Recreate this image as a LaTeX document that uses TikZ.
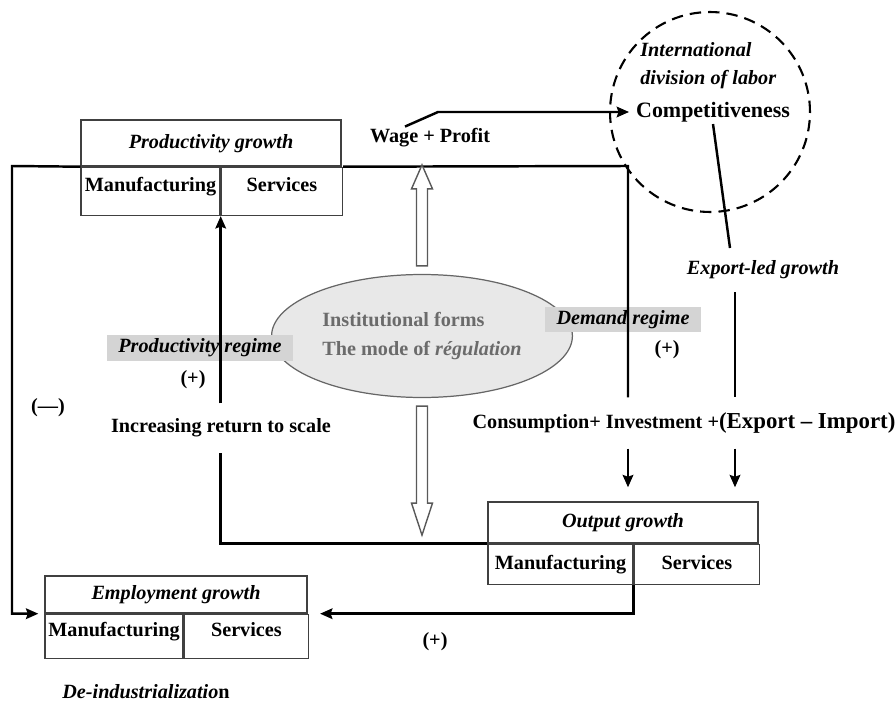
\documentclass[tikz,border=0pt]{standalone}
\usepackage{fontspec}
\setmainfont{Liberation Serif}
\usetikzlibrary{shapes.geometric, arrows.meta, positioning, calc}
\tikzstyle{arrow} = [line width=1.4pt,->,>={Stealth[length=7pt,width=6pt,inset=1pt]}]
\tikzstyle{link} = [line width=1.4pt]
\tikzstyle{hollow} = [draw=black!65, fill=white, line width=0.8pt]

\begin{document}
\begin{tikzpicture}[x=0.02cm, y=-0.02cm,
  execute at begin picture={\fontsize{11.5}{13}\selectfont\bfseries},
  cell/.style = {draw=black!75, line width=0.8pt, inner sep=0pt, text height=1.6ex, text depth=0.45ex},
  raised/.style = {cell, text depth=1.5ex},
  head/.style = {cell, font=\itshape},
  regime/.style = {fill=black!17, inner sep=0pt, font=\itshape},
  gap/.style = {inner xsep=2pt, inner ysep=0.3cm}]
\useasboundingbox (0,0) rectangle (896,703);

% productivity growth
\node[head, minimum width=5.2cm, minimum height=0.92cm] (pg) at (211,143) {Productivity growth};
\node[raised, minimum width=2.78cm, minimum height=0.96cm, below right=0pt and 0pt of pg.south west] (pgm) {Manufacturing};
\node[raised, minimum width=2.42cm, minimum height=0.96cm, right=0pt of pgm] (pgs) {Services};

% output growth
\node[head, minimum width=5.4cm, minimum height=0.82cm] (og) at (623,522.5) {Output growth};
\node[cell, minimum width=2.9cm, minimum height=0.8cm, below right=0pt and 0pt of og.south west] (ogm) {Manufacturing};
\node[cell, minimum width=2.5cm, minimum height=0.8cm, right=0pt of ogm] (ogs) {Services};

% employment growth
\node[head, minimum width=5.24cm, minimum height=0.74cm] (eg) at (176,594.5) {Employment growth};
\node[raised, minimum width=2.76cm, minimum height=0.88cm, below right=0pt and 0pt of eg.south west] (egm) {Manufacturing};
\node[raised, minimum width=2.48cm, minimum height=0.88cm, right=0pt of egm] (egs) {Services};

% international division of labor
\node[circle, draw, dash pattern=on 6.5pt off 4pt, line width=1.2pt, minimum size=4cm] (idl) at (710,112) {};
\node[anchor=west, inner sep=0pt, font=\itshape] (intl) at (640,50) {International};
\node[anchor=west, inner sep=0pt, font=\itshape] (dol) at (640,80) {division of labor};
\node[font=\fontsize{12.5}{14}\selectfont] (comp) at (713,112) {Competitiveness};

% institutional forms
\node[ellipse, draw=black!60, fill=black!9, line width=0.7pt, minimum width=4.88cm, minimum height=2.46cm,
      align=left, text=black!58] (inst) at (422,336) {Institutional forms\\[0.13cm] The mode of \textit{régulation}};

% labels
\node (wp) at (430,138) {Wage + Profit};
\node[gap, inner ysep=0.25cm, font=\itshape] (elg) at (763,270) {Export-led growth};
\node[regime, minimum width=3.72cm, minimum height=0.52cm] (pr) at (200,348) {Productivity regime};
\node[regime, minimum width=3.12cm, minimum height=0.5cm] (dr) at (623,319.5) {Demand regime};
\node (prp) at (193,380) {(+)};
\node (drp) at (667,350) {(+)};
\node (neg) at (48,408) {(—)};
\node[gap] (irs) at (221,428) {Increasing return to scale};
\node[gap] (cim) at (684,423) {Consumption+ Investment +{\fontsize{13}{15}\selectfont(Export – Import)}};
\node (opl) at (435,642) {(+)};
\node (deind) at (146,692) {\textit{De-industrializatio}n};

\coordinate (lft) at (12,166);
\coordinate (dx) at (628,166);
\coordinate (ex) at (735,0);
\coordinate (bend) at (438,112);

% connectors
\draw[arrow] (pgm.north west) -- (lft) |- ([xshift=-0.12cm]egm.north west);
\draw[link] (pgs.north east) -- (dx) -- (dx |- cim.north);
\draw[arrow, shorten >=0.28cm] (dx |- cim.south) -- (dx |- og.north);
\draw[link] ([yshift=0.1cm]comp.south) -- ([xshift=-0.1cm]elg.north -| ex);
\draw[link] (elg.south -| ex) -- (ex |- cim.north);
\draw[arrow, shorten >=0.28cm] (ex |- cim.south) -- (ex |- og.north);
\draw[arrow] ([xshift=-0.5cm, yshift=-0.1cm]wp.north) -- (bend) -- (comp.west);
\draw[link] (ogm.north west) -| (irs.south -| pgm.south east);
\draw[arrow] (irs.north -| pgm.south east) -- (pgm.south east);
\draw[arrow, shorten >=0.22cm] (ogm.south east) |- (egs.north east);

% hollow arrows
\draw[hollow] ($(inst.north)+(-5.5,-8)$) -- ++(0,-77) -- ++(-5,0) -- ++(10.5,-24) -- ++(10.5,24) -- ++(-5,0) -- ++(0,77) -- cycle;
\draw[hollow] ($(inst.south)+(-5.5,8)$) -- ++(0,97) -- ++(-5,0) -- ++(10.5,32) -- ++(10.5,-32) -- ++(-5,0) -- ++(0,-97) -- cycle;
\end{tikzpicture}
\end{document}
